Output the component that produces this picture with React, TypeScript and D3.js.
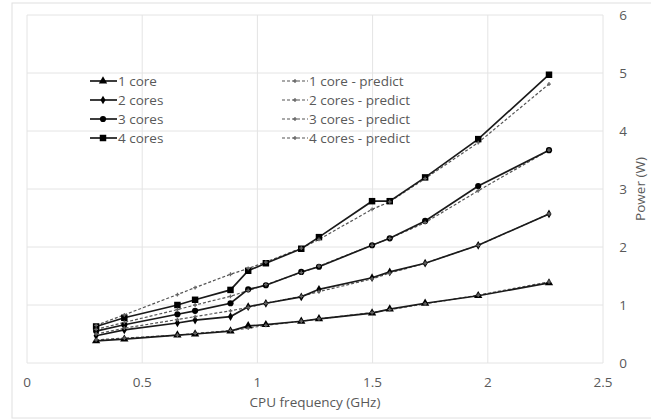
import * as d3 from 'd3';
import { useEffect, useRef } from 'react';

const frequencies = [0.3, 0.4224, 0.6528, 0.7296, 0.8832, 0.96, 1.0368, 1.1904, 1.2672, 1.4976, 1.5744, 1.728, 1.9584, 2.2656];

const core1 = [0.38, 0.41, 0.48, 0.5, 0.55, 0.64, 0.66, 0.72, 0.76, 0.86, 0.93, 1.03, 1.16, 1.38];
const core2 = [0.47, 0.57, 0.69, 0.74, 0.8, 0.97, 1.03, 1.14, 1.27, 1.47, 1.57, 1.72, 2.03, 2.57];
const core3 = [0.55, 0.66, 0.84, 0.9, 1.03, 1.27, 1.34, 1.57, 1.66, 2.03, 2.15, 2.45, 3.05, 3.67];
const core4 = [0.63, 0.78, 1.0, 1.09, 1.26, 1.59, 1.72, 1.97, 2.17, 2.79, 2.79, 3.2, 3.86, 4.97];

const core1Predict = [0.4, 0.43, 0.48, 0.51, 0.56, 0.6, 0.65, 0.72, 0.76, 0.87, 0.92, 1.02, 1.17, 1.4];
const core2Predict = [0.5, 0.6, 0.75, 0.8, 0.9, 0.96, 1.03, 1.15, 1.23, 1.45, 1.55, 1.72, 2.03, 2.57];
const core3Predict = [0.58, 0.7, 0.92, 1.0, 1.15, 1.25, 1.35, 1.56, 1.67, 2.03, 2.15, 2.42, 2.97, 3.67];
const core4Predict = [0.65, 0.83, 1.18, 1.3, 1.53, 1.63, 1.74, 1.98, 2.13, 2.65, 2.78, 3.18, 3.8, 4.81];

const xTicks = [0, 0.5, 1, 1.5, 2, 2.5];
const yTicks = [0, 1, 2, 3, 4, 5, 6];

const measured = [
  { name: '1 core', values: core1, marker: 'triangle' },
  { name: '2 cores', values: core2, marker: 'diamond' },
  { name: '3 cores', values: core3, marker: 'circle' },
  { name: '4 cores', values: core4, marker: 'square' },
];
const predicted = [
  { name: '1 core - predict', values: core1Predict },
  { name: '2 cores - predict', values: core2Predict },
  { name: '3 cores - predict', values: core3Predict },
  { name: '4 cores - predict', values: core4Predict },
];

const symbolFor = {
  triangle: d3.symbolTriangle,
  diamond: d3.symbolDiamond,
  circle: d3.symbolCircle,
  square: d3.symbolSquare,
};
const sizeFor = { triangle: 30, diamond: 22, circle: 30, square: 42 };

const FONT = '"Open Sans", "Noto Sans", sans-serif';
const FONT_SIZE = '13.5px';
const TEXT = '#595959';
const GRID = '#e4e4e4';

export default function App() {
  const ref = useRef<SVGSVGElement>(null);

  useEffect(() => {
    const svg = d3.select(ref.current);
    svg.selectAll('*').remove();
    const width = 651;
    const height = 420;
    svg.attr('width', width).attr('height', height);

    svg.append('rect')
      .attr('x', 12).attr('y', 3).attr('width', 645).attr('height', 415)
      .attr('fill', '#fff').attr('stroke', '#e0e0e0');

    const x = d3.scaleLinear().domain([0, 2.5]).range([27, 603]);
    const y = d3.scaleLinear().domain([0, 6]).range([363, 15]);

    const grid = svg.append('g');
    grid.selectAll('line.v').data(xTicks).enter().append('line')
      .attr('x1', (d) => x(d)).attr('x2', (d) => x(d))
      .attr('y1', y(0)).attr('y2', y(6))
      .attr('stroke', GRID);
    grid.selectAll('line.h').data(yTicks).enter().append('line')
      .attr('y1', (d) => y(d)).attr('y2', (d) => y(d))
      .attr('x1', x(0)).attr('x2', x(2.5))
      .attr('stroke', GRID);

    const label = (sel) => sel
      .style('font-family', FONT).style('font-size', FONT_SIZE).style('fill', TEXT);

    svg.append('g').selectAll('text').data(xTicks).enter().append('text')
      .attr('x', (d) => x(d)).attr('y', 387)
      .attr('text-anchor', 'middle')
      .call(label)
      .text((d) => String(d));

    svg.append('g').selectAll('text').data(yTicks).enter().append('text')
      .attr('x', 623).attr('y', (d) => y(d) + 5)
      .attr('text-anchor', 'middle')
      .call(label)
      .text((d) => String(d));

    svg.append('text')
      .attr('x', 315).attr('y', 407)
      .attr('text-anchor', 'middle')
      .call(label)
      .text('CPU frequency (GHz)');

    svg.append('text')
      .attr('transform', `translate(645,${(y(0) + y(6)) / 2}) rotate(-90)`)
      .attr('text-anchor', 'middle')
      .call(label)
      .text('Power  (W)');

    const line = d3.line<number>()
      .x((_, i) => x(frequencies[i]))
      .y((d) => y(d));

    const plot = svg.append('g');

    predicted.forEach((s) => {
      plot.append('path')
        .attr('d', line(s.values))
        .attr('fill', 'none')
        .attr('stroke', '#555')
        .attr('stroke-width', 1.2)
        .attr('stroke-dasharray', '3,2');
    });

    measured.forEach((s) => {
      plot.append('path')
        .attr('d', line(s.values))
        .attr('fill', 'none')
        .attr('stroke', '#1a1a1a')
        .attr('stroke-width', 1.7);
      plot.selectAll(null).data(s.values).enter().append('path')
        .attr('transform', (d, i) => `translate(${x(frequencies[i])},${y(d)})`)
        .attr('d', d3.symbol().type(symbolFor[s.marker]).size(sizeFor[s.marker])())
        .attr('fill', '#000');
    });

    predicted.forEach((s) => {
      plot.selectAll(null).data(s.values).enter().append('path')
        .attr('transform', (d, i) => `translate(${x(frequencies[i])},${y(d)})`)
        .attr('d', d3.symbol().type(d3.symbolCross).size(8)())
        .attr('fill', '#666');
    });

    const legend = svg.append('g');
    const rowY = [81, 100, 119, 138];
    measured.forEach((s, i) => {
      legend.append('line')
        .attr('x1', 90).attr('x2', 117).attr('y1', rowY[i]).attr('y2', rowY[i])
        .attr('stroke', '#1a1a1a').attr('stroke-width', 1.7);
      legend.append('path')
        .attr('transform', `translate(103,${rowY[i]})`)
        .attr('d', d3.symbol().type(symbolFor[s.marker]).size(sizeFor[s.marker])())
        .attr('fill', '#000');
      legend.append('text')
        .attr('x', 118).attr('y', rowY[i] + 5)
        .call(label)
        .text(s.name);
    });
    predicted.forEach((s, i) => {
      legend.append('line')
        .attr('x1', 282).attr('x2', 308).attr('y1', rowY[i]).attr('y2', rowY[i])
        .attr('stroke', '#555').attr('stroke-width', 1.2).attr('stroke-dasharray', '3,2');
      legend.append('path')
        .attr('transform', `translate(295,${rowY[i]})`)
        .attr('d', d3.symbol().type(d3.symbolCross).size(8)())
        .attr('fill', '#666');
      legend.append('text')
        .attr('x', 309).attr('y', rowY[i] + 5)
        .call(label)
        .text(s.name);
    });

    return () => {
      svg.selectAll('*').remove();
    };
  }, []);

  return (
    <svg
      ref={ref}
      style={{ position: 'absolute', left: 0, top: 0, display: 'block', background: '#fff' }}
    />
  );
}
